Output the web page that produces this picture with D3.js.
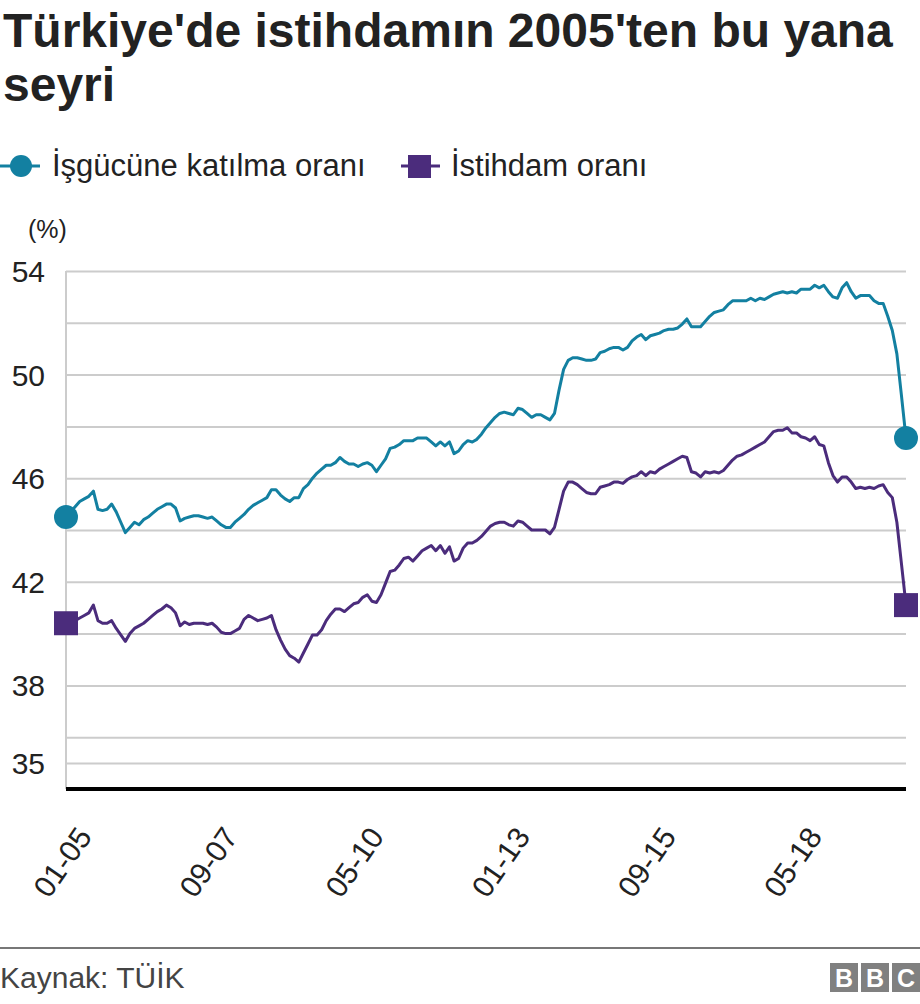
<!DOCTYPE html>
<html lang="tr">
<head>
<meta charset="UTF-8">
<title>Türkiye'de istihdam</title>
<script src="https://cdn.jsdelivr.net/npm/d3@7"></script>
<style>
  body { margin: 0; background: #fff; }
  svg text { font-family: "Liberation Sans", Arial, Helvetica, sans-serif; }
  .grid line { stroke: #cccccc; stroke-width: 2px; }
  .grid text { font-size: 30px; fill: #222; }
  .xaxis text { font-size: 30px; fill: #222; }
</style>
</head>
<body>
<svg id="chart" width="920" height="1004"></svg>
<script>
// aylık veri, 01-2005 .. 05-2020
const startYear = 2005, monthCount = 185
const months = []
for (let i = 0; i < monthCount; i++) {
    let m = i % 12 + 1, yr = (startYear + Math.floor(i / 12)) % 100
    months.push(String(m).padStart(2, '0') + '-' + String(yr).padStart(2, '0'))
}
const tickLabels = ['01-05', '09-07', '05-10', '01-13', '09-15', '05-18']

const seriesNames = ['İşgücüne katılma oranı', 'İstihdam oranı']

// İşgücüne katılma oranı (%)
const katilma = [
    44.5, 44.7, 44.9, 45.1, 45.2, 45.3, 45.5, 44.8, 44.75, 44.8, 45.0, 44.7, 44.3, 43.9, 44.1, 44.3,
    44.2, 44.4, 44.5, 44.65, 44.8, 44.9, 45.0, 45.0, 44.85, 44.35, 44.45, 44.5, 44.55, 44.55, 44.5,
    44.45, 44.5, 44.35, 44.2, 44.1, 44.1, 44.3, 44.45, 44.6, 44.8, 44.95, 45.05, 45.15, 45.25, 45.55,
    45.55, 45.35, 45.2, 45.1, 45.25, 45.25, 45.6, 45.75, 46.0, 46.2, 46.35, 46.5, 46.5, 46.6, 46.8, 46.65,
    46.55, 46.55, 46.45, 46.55, 46.6, 46.5, 46.25, 46.5, 46.75, 47.15, 47.2, 47.3, 47.45, 47.45, 47.45,
    47.55, 47.55, 47.55, 47.4, 47.25, 47.4, 47.25, 47.4, 46.95, 47.05, 47.3, 47.45, 47.4, 47.5, 47.7,
    47.95, 48.15, 48.35, 48.5, 48.55, 48.5, 48.45, 48.7, 48.65, 48.5, 48.35, 48.45, 48.45, 48.35, 48.25,
    48.5, 49.4, 50.2, 50.55, 50.65, 50.65, 50.6, 50.55, 50.55, 50.6, 50.85, 50.9, 51.0, 51.05, 51.05, 50.95,
    51.05, 51.3, 51.45, 51.55, 51.35, 51.5, 51.55, 51.6, 51.7, 51.75, 51.75, 51.8, 51.95, 52.15, 51.85,
    51.85, 51.85, 52.05, 52.25, 52.4, 52.45, 52.5, 52.7, 52.85, 52.85, 52.85, 52.85, 52.95, 52.85, 52.95, 52.9,
    53.0, 53.1, 53.15, 53.2, 53.15, 53.2, 53.15, 53.3, 53.3, 53.3, 53.45, 53.35, 53.45, 53.2, 53.0, 52.95,
    53.35, 53.55, 53.2, 52.95, 53.05, 53.05, 53.05, 52.85, 52.75, 52.75, 52.25, 51.7, 50.8, 49.2, 47.55
]

// İstihdam oranı (%)
const istihdam = [
    40.4, 40.45, 40.5, 40.6, 40.7, 40.8, 41.1, 40.5, 40.4, 40.4, 40.5, 40.2, 39.95, 39.7, 40.0, 40.2,
    40.3, 40.4, 40.55, 40.7, 40.85, 40.95, 41.1, 41.0, 40.8, 40.3, 40.45, 40.35, 40.4, 40.4, 40.4,
    40.35, 40.4, 40.25, 40.05, 40.0, 40.0, 40.1, 40.2, 40.55, 40.7, 40.6, 40.5, 40.55, 40.6, 40.7,
    40.15, 39.75, 39.4, 39.15, 39.05, 38.9, 39.25, 39.6, 39.95, 39.95, 40.15, 40.5, 40.75, 40.95, 40.95, 40.85,
    41.0, 41.15, 41.2, 41.4, 41.5, 41.25, 41.2, 41.5, 41.95, 42.4, 42.45, 42.65, 42.9, 42.95, 42.8,
    43.0, 43.2, 43.3, 43.4, 43.2, 43.4, 43.1, 43.35, 42.8, 42.9, 43.3, 43.5, 43.5, 43.6, 43.75,
    43.95, 44.15, 44.25, 44.3, 44.3, 44.2, 44.15, 44.35, 44.3, 44.15, 44.0, 44.0, 44.0, 44.0, 43.85,
    44.1, 44.8, 45.5, 45.85, 45.85, 45.75, 45.6, 45.45, 45.4, 45.4, 45.65, 45.7, 45.75, 45.85, 45.85, 45.8,
    45.95, 46.05, 46.1, 46.25, 46.1, 46.25, 46.2, 46.35, 46.45, 46.55, 46.65, 46.75, 46.85, 46.8, 46.25,
    46.2, 46.05, 46.25, 46.2, 46.25, 46.2, 46.3, 46.5, 46.7, 46.85, 46.9, 47.0, 47.1, 47.2, 47.3, 47.4,
    47.6, 47.8, 47.85, 47.85, 47.95, 47.75, 47.75, 47.6, 47.55, 47.45, 47.6, 47.3, 47.25, 46.6, 46.1, 45.85,
    46.05, 46.05, 45.85, 45.6, 45.65, 45.6, 45.65, 45.6, 45.7, 45.75, 45.45, 45.25, 44.3, 42.7, 41.1
]

const gridValues = [54, 52, 50, 48, 46, 44, 42, 40, 38, 36, 35]
const yLabels = [54, 50, 46, 42, 38, 35]

const teal = '#1380a1', purple = '#4b2c7c'

var svg = d3.select('#chart')
var mLeft = 66, mRight = 906, mTop = 271, mBottom = 789

var x = d3.scalePoint().domain(months).range([mLeft, mRight])
var y = d3.scaleLinear().domain([34, 54]).range([mBottom, mTop])

// başlık
svg.append('text').attr('x', 3).attr('y', 47)
    .style('font-size', '48px').style('font-weight', 'bold').attr('fill', '#222')
    .text("Türkiye'de istihdamın 2005'ten bu yana")
svg.append('text').attr('x', 3).attr('y', 101)
    .style('font-size', '48px').style('font-weight', 'bold').attr('fill', '#222')
    .text('seyri')

// legend
var leg = svg.append('g')
leg.append('line').attr('x1', 0).attr('x2', 40).attr('y1', 166).attr('y2', 166)
    .attr('stroke', teal).attr('stroke-width', 3)
leg.append('circle').attr('cx', 21).attr('cy', 166).attr('r', 11).attr('fill', teal)
leg.append('text').attr('x', 52).attr('y', 176).style('font-size', '31px').attr('fill', '#222')
    .text(seriesNames[0])
leg.append('line').attr('x1', 401).attr('x2', 440).attr('y1', 166).attr('y2', 166)
    .attr('stroke', purple).attr('stroke-width', 3)
leg.append('rect').attr('x', 408).attr('y', 155).attr('width', 23).attr('height', 23).attr('fill', purple)
leg.append('text').attr('x', 451).attr('y', 176).style('font-size', '31px').attr('fill', '#222')
    .text(seriesNames[1])

svg.append('text').attr('x', 28).attr('y', 238).style('font-size', '25px').attr('fill', '#222').text('(%)')

// grid + y etiketleri
var grid = svg.append('g').attr('class', 'grid').attr('transform', 'translate(' + mLeft + ',0)')
    .call(d3.axisLeft(y).tickValues(gridValues).tickSize(-(mRight - mLeft)).tickPadding(21)
        .tickFormat(d => yLabels.includes(d) ? d : ''))
grid.select('.domain').remove()
grid.selectAll('text').attr('dy', '0.35em')

svg.append('line').attr('x1', mLeft).attr('x2', mLeft).attr('y1', mTop).attr('y2', mBottom)
    .attr('stroke', '#cccccc').attr('stroke-width', 2)

// x ekseni
var xAxis = svg.append('g').attr('class', 'xaxis').attr('transform', 'translate(0,' + mBottom + ')')
    .call(d3.axisBottom(x).tickValues(tickLabels).tickSize(0))
xAxis.select('.domain').remove()
xAxis.selectAll('text')
    .attr('text-anchor', 'end')
    .attr('dy', 0)
    .attr('transform', 'translate(24,46) rotate(-55)')

svg.append('line').attr('x1', mLeft).attr('x2', mRight).attr('y1', mBottom).attr('y2', mBottom)
    .attr('stroke', '#000').attr('stroke-width', 4)

// çizgiler
var line = d3.line().x((d, i) => x(months[i])).y(d => y(d))
svg.append('path').datum(katilma).attr('d', line)
    .attr('fill', 'none').attr('stroke', teal).attr('stroke-width', 3).attr('stroke-linejoin', 'round')
svg.append('path').datum(istihdam).attr('d', line)
    .attr('fill', 'none').attr('stroke', purple).attr('stroke-width', 3).attr('stroke-linejoin', 'round')

var ends = [0, monthCount - 1]
svg.selectAll('.dot').data(ends).enter().append('circle')
    .attr('cx', i => x(months[i])).attr('cy', i => y(katilma[i])).attr('r', 12).attr('fill', teal)
svg.selectAll('.sq').data(ends).enter().append('rect')
    .attr('x', i => x(months[i]) - 12).attr('y', i => y(istihdam[i]) - 12)
    .attr('width', 24).attr('height', 24).attr('fill', purple)

// alt bilgi
svg.append('line').attr('x1', 0).attr('x2', 920).attr('y1', 948).attr('y2', 948)
    .attr('stroke', '#777').attr('stroke-width', 2)
svg.append('text').attr('x', 0).attr('y', 988).style('font-size', '30px').attr('fill', '#444')
    .text('Kaynak: TÜİK')
var bbc = svg.append('g').attr('transform', 'translate(830,963)')
;['B', 'B', 'C'].forEach((c, i) => {
    bbc.append('rect').attr('x', i * 31).attr('y', 0).attr('width', 28).attr('height', 29).attr('fill', '#808080')
    bbc.append('text').attr('x', i * 31 + 14).attr('y', 24).attr('text-anchor', 'middle')
        .style('font-size', '25px').style('font-weight', 'bold').attr('fill', '#fff').text(c)
})
</script>
</body>
</html>
